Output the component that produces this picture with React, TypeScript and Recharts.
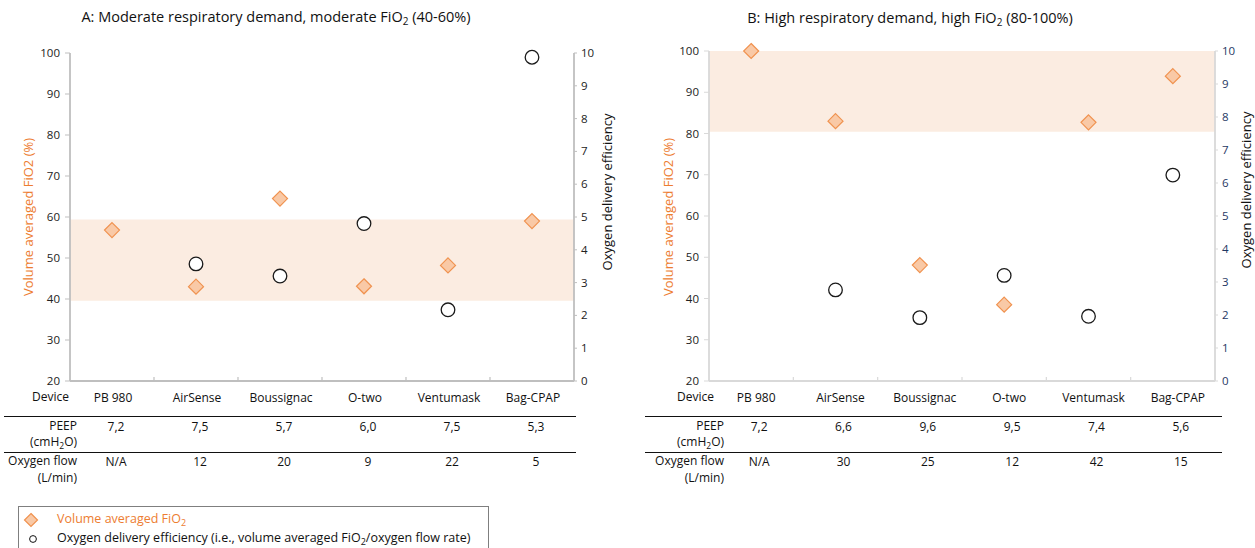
import React from 'react'
import { ComposedChart, Scatter, XAxis, YAxis, ReferenceArea } from 'recharts'

const devices = ['PB 980', 'AirSense', 'Boussignac', 'O-two', 'Ventumask', 'Bag-CPAP']
const fioTicks = [20, 30, 40, 50, 60, 70, 80, 90, 100]
const effTicks = [0, 1, 2, 3, 4, 5, 6, 7, 8, 9, 10]

// panel A: moderate demand
const fioA = [56.8, 43.0, 64.5, 43.1, 48.2, 59.0]
const effA = [null, 3.57, 3.2, 4.8, 2.17, 9.87]
const peepA = ['7,2', '7,5', '5,7', '6,0', '7,5', '5,3']
const flowA = ['N/A', '12', '20', '9', '22', '5']
const bandA = [39.6, 59.4]

// panel B: high demand
const fioB = [100, 83.0, 48.1, 38.5, 82.7, 93.9]
const effB = [null, 2.76, 1.92, 3.2, 1.96, 6.24]
const peepB = ['7,2', '6,6', '9,6', '9,5', '7,4', '5,6']
const flowB = ['N/A', '30', '25', '12', '42', '15']
const bandB = [80.4, 100]

const ORANGE = '#ED7D31'
const FONT = '"Open Sans", "Noto Sans", sans-serif'

const Diamond = (p: any) => {
  const { cx, cy } = p
  const r = 7.5
  return (
    <polygon
      points={`${cx},${cy - r} ${cx + r},${cy} ${cx},${cy + r} ${cx - r},${cy}`}
      fill="#F9C9A6"
      stroke="#F0924F"
      strokeWidth={1.2}
    />
  )
}

const Ring = (p: any) => (
  <circle cx={p.cx} cy={p.cy} r={6.8} fill="#fff" stroke="#1a1a1a" strokeWidth={1.3} />
)

function TableTick(props: any) {
  const { x, y, payload, peep, flow, axisColor, shift } = props
  const v = payload.value
  if (Number.isInteger(v)) {
    return <line x1={x} x2={x} y1={y} y2={y - 4} stroke={axisColor} strokeWidth={1.2} />
  }
  const i = Math.floor(v)
  return (
    <g fontSize={12} fill="#111" textAnchor="middle">
      <text x={x + shift} y={y + 16} dominantBaseline="central">{devices[i]}</text>
      <text x={x + shift + 3} y={y + 45} dominantBaseline="central">{peep[i]}</text>
      <text x={x + shift + 3} y={y + 80} dominantBaseline="central">{flow[i]}</text>
    </g>
  )
}

interface PanelProps {
  left: number
  width: number
  top: number
  leftW: number
  rightW: number
  fio: number[]
  eff: (number | null)[]
  peep: string[]
  flow: string[]
  band: number[]
  axisColor: string
  rightTickColor: string
  shift: number
}

function Panel({ left, width, top, leftW, rightW, fio, eff, peep, flow, band, axisColor, rightTickColor, shift }: PanelProps) {
  const fioData = fio.map((y, i) => ({ x: i + 0.5, y }))
  const effData = eff
    .map((y, i) => ({ x: i + 0.5, y }))
    .filter((d) => d.y !== null)
  const xTicks = [0.5, 1, 1.5, 2, 2.5, 3, 3.5, 4, 4.5, 5, 5.5]
  const plotBottom = 381
  const height = 548
  return (
    <div style={{ position: 'absolute', left, top: 0 }}>
      <ComposedChart
        width={width}
        height={height}
        margin={{ top, right: 0, bottom: 0, left: 0 }}
      >
        <ReferenceArea
          yAxisId="left"
          y1={band[0]}
          y2={band[1]}
          fill="#FBECE1"
          fillOpacity={1}
          stroke="none"
        />
        <XAxis
          dataKey="x"
          type="number"
          domain={[0, 6]}
          ticks={xTicks}
          interval={0}
          height={height - plotBottom}
          tickSize={0}
          tickMargin={0}
          axisLine={{ stroke: axisColor, strokeWidth: 1.8 }}
          tickLine={false}
          tick={(p: any) => <TableTick {...p} peep={peep} flow={flow} axisColor={axisColor} shift={shift} />}
        />
        <YAxis
          yAxisId="left"
          dataKey="y"
          type="number"
          domain={[20, 100]}
          ticks={fioTicks}
          width={leftW}
          tickSize={5}
          tickMargin={5}
          axisLine={{ stroke: axisColor, strokeWidth: 1.8 }}
          tickLine={{ stroke: axisColor }}
          tick={{ fontSize: 11.5, fill: '#222' }}
        />
        <YAxis
          yAxisId="right"
          orientation="right"
          dataKey="y"
          type="number"
          domain={[0, 10]}
          ticks={effTicks}
          width={rightW}
          tickSize={3}
          tickMargin={4}
          axisLine={{ stroke: axisColor, strokeWidth: 1.8 }}
          tickLine={{ stroke: axisColor }}
          tick={{ fontSize: 11.5, fill: rightTickColor }}
        />
        <Scatter name="Volume averaged FiO2" yAxisId="left" data={fioData} shape={Diamond} isAnimationActive={false} />
        <Scatter name="Oxygen delivery efficiency" yAxisId="right" data={effData} shape={Ring} isAnimationActive={false} />
      </ComposedChart>
    </div>
  )
}

const absText = (x: number, y: number, extra: React.CSSProperties = {}): React.CSSProperties => ({
  position: 'absolute',
  left: x,
  top: y,
  whiteSpace: 'nowrap',
  lineHeight: 1,
  ...extra,
})

function RowLabels({ deviceRight, rowRight, lineLeft, lineRight }: { deviceRight: number; rowRight: number; lineLeft: number; lineRight: number }) {
  const lab = (y: number, right: number, content: React.ReactNode) => (
    <div style={absText(right, y, { transform: 'translate(-100%, -50%)', fontSize: 12, textAlign: 'right', color: '#111' })}>
      {content}
    </div>
  )
  return (
    <>
      {lab(397, deviceRight, 'Device')}
      <div style={{ position: 'absolute', left: lineLeft, top: 416, width: lineRight - lineLeft, height: 1, background: '#111' }} />
      {lab(426, rowRight, 'PEEP')}
      {lab(443, rowRight, <span>(cmH<sub style={{ fontSize: 8.5 }}>2</sub>O)</span>)}
      <div style={{ position: 'absolute', left: lineLeft, top: 452, width: lineRight - lineLeft, height: 1, background: '#111' }} />
      {lab(461, rowRight, 'Oxygen flow')}
      {lab(478, rowRight, '(L/min)')}
    </>
  )
}

function VLabel({ x, y, text, color }: { x: number; y: number; text: string; color: string }) {
  return (
    <div style={absText(x, y, { transform: 'translate(-50%, -50%) rotate(-90deg)', fontSize: 13, color })}>
      {text}
    </div>
  )
}

const legendItems = [
  { label: 'Volume averaged FiO', sub: '2', tail: '', color: ORANGE, kind: 'diamond' },
  { label: 'Oxygen delivery efficiency (i.e., volume averaged FiO', sub: '2', tail: '/oxygen flow rate)', color: '#111', kind: 'circle' },
]

export default function App() {
  return (
    <div style={{ position: 'absolute', left: 0, top: 0, width: 1255, height: 548, background: '#fff', fontFamily: FONT, overflow: 'hidden' }}>
      <Panel left={0} width={640} top={53} leftW={70} rightW={66} fio={fioA} eff={effA} peep={peepA} flow={flowA} band={bandA} axisColor="#BFBFBF" rightTickColor="#222" shift={1} />
      <Panel left={640} width={615} top={51} leftW={69} rightW={40} fio={fioB} eff={effB} peep={peepB} flow={flowB} band={bandB} axisColor="#D9D9D9" rightTickColor="#1F3864" shift={5} />

      <div style={absText(276, 18, { transform: 'translate(-50%, -50%)', fontSize: 14.5, color: '#111' })}>
        A: Moderate respiratory demand, moderate FiO<sub style={{ fontSize: 10 }}>2</sub> (40-60%)
      </div>
      <div style={absText(910, 19, { transform: 'translate(-50%, -50%)', fontSize: 14.5, color: '#111' })}>
        B: High respiratory demand, high FiO<sub style={{ fontSize: 10 }}>2</sub> (80-100%)
      </div>

      <VLabel x={28} y={217} text="Volume averaged FiO2 (%)" color={ORANGE} />
      <VLabel x={607} y={192} text="Oxygen delivery efficiency" color="#111" />
      <VLabel x={668} y={217} text="Volume averaged FiO2 (%)" color={ORANGE} />
      <VLabel x={1246} y={190} text="Oxygen delivery efficiency" color="#111" />

      <RowLabels deviceRight={69} rowRight={77} lineLeft={4} lineRight={576} />
      <RowLabels deviceRight={714} rowRight={724} lineLeft={645} lineRight={1222} />

      <div style={{ position: 'absolute', left: 18, top: 506, width: 469, height: 60, border: '1px solid #7f7f7f' }}>
        {legendItems.map((it, i) => (
          <div key={it.label} style={{ position: 'absolute', left: 0, top: 13 + i * 19, height: 0 }}>
            <svg width={26} height={16} style={{ position: 'absolute', left: 4, top: -8 }}>
              {it.kind === 'diamond' ? (
                <polygon points="8,1.5 14.5,8 8,14.5 1.5,8" fill="#F9C9A6" stroke="#F0924F" strokeWidth={1.2} />
              ) : (
                <circle cx={10} cy={8} r={3.4} fill="#fff" stroke="#111" strokeWidth={1} />
              )}
            </svg>
            <div style={absText(38, 0, { transform: 'translateY(-50%)', fontSize: 12.5, color: it.color })}>
              {it.label}
              <sub style={{ fontSize: 9 }}>{it.sub}</sub>
              {it.tail}
            </div>
          </div>
        ))}
      </div>
    </div>
  )
}
